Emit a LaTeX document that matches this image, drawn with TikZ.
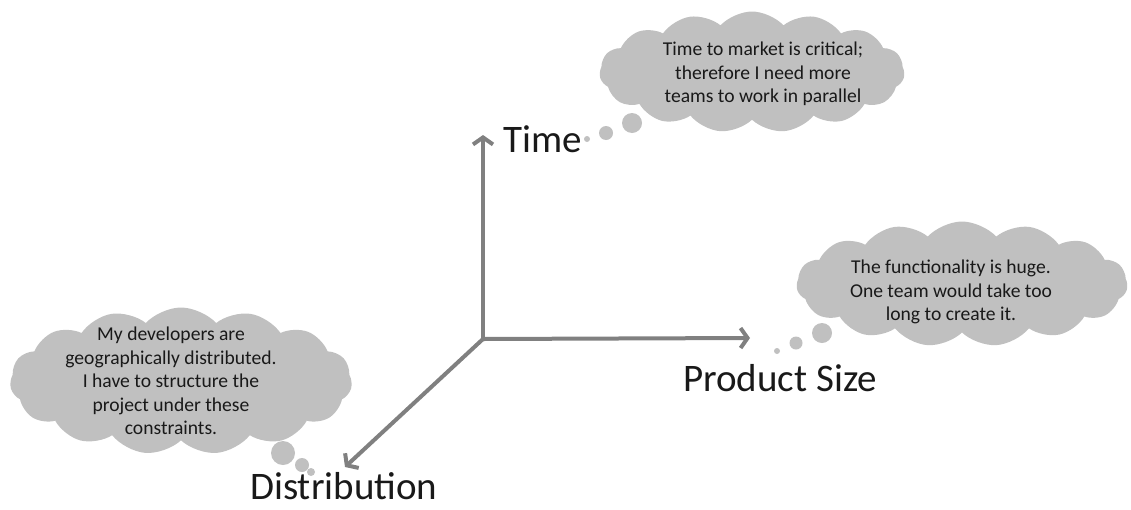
\documentclass[tikz,border=0pt]{standalone}
\usepackage{fontspec}
\setmainfont{Carlito}
\usetikzlibrary{shapes.symbols,arrows.meta}

\definecolor{axisgray}{RGB}{128,128,128}
\definecolor{cloudgray}{RGB}{192,192,192}
\definecolor{inkgray}{RGB}{25,25,25}

\tikzset{
	axis/.style={draw=axisgray, line width=4pt, -{Straight Barb[length=7pt,width=20pt]}},
	thought/.style={cloud, cloud puffs=15, cloud puff arc=95, cloud ignores aspect, fill=cloudgray, draw=none, inner sep=0pt},
	thoughttext/.style={align=center, text=inkgray, inner sep=0pt, font=\fontsize{19.6}{23.4}\selectfont},
	axislabel/.style={text=inkgray, inner sep=0pt, font=\fontsize{39}{45}\selectfont},
	bubble/.style={circle, fill=cloudgray, draw=none, inner sep=0pt}
}

\begin{document}
\begin{tikzpicture}[x=1pt,y=-1pt]
	\useasboundingbox (0,0) rectangle (1131,509);

	% axes
	\coordinate (o) at (483,339);
	\coordinate (timeEnd) at (483,135);
	\coordinate (sizeEnd) at (750,338);
	\coordinate (distEnd) at (345,467);
	\draw[axis] (o) -- (timeEnd);
	\draw[axis] (o) -- (sizeEnd);
	\draw[axis] (o) -- (distEnd);

	\node[axislabel, anchor=base west] (time) at (503,152) {Time};
	\node[axislabel, anchor=base west] (size) at (683,391) {Product Size};
	\node[axislabel, anchor=base west] (dist) at (250,499) {Distribution};

	% thought clouds
	\node[thought, minimum width=305, minimum height=121] (timeCloud) at (752,72) {};
	\node[thought, minimum width=331, minimum height=125] (sizeCloud) at (962,284) {};
	\node[thought, minimum width=342, minimum height=147] (distCloud) at (181,381) {};

	\node[thoughttext] (timeText) at (763,74) {Time to market is critical;\\therefore I need more\\teams to work in parallel};
	\node[thoughttext] (sizeText) at (951,292) {The functionality is huge.\\One team would take too\\long to create it.};
	\node[thoughttext] (distText) at (171,381) {My developers are\\geographically distributed.\\I have to structure the\\project under these\\constraints.};

	% bubbles
	\foreach \bx/\by/\br [count=\i] in {587/139/3, 606/133/7, 632/123/10,
			777/351/3, 796/343/6.5, 822/333/10,
			311/472/4, 302/465/7, 283/453/12}{
		\node[bubble, minimum size=2*\br] (bubble\i) at (\bx,\by) {};
	}
\end{tikzpicture}
\end{document}
